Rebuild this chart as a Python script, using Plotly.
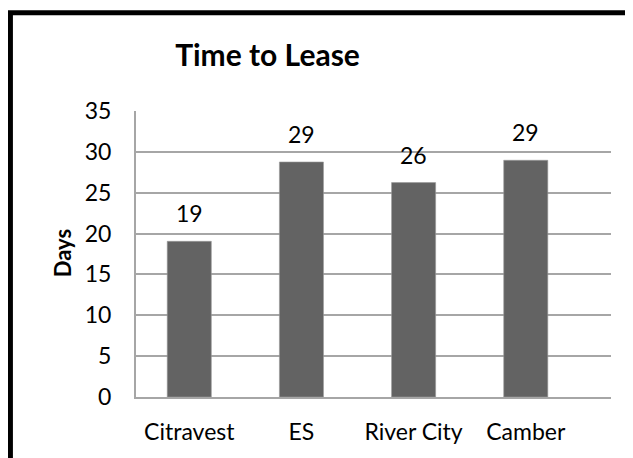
import plotly.graph_objects as go

categories = ["Citravest", "ES", "River City", "Camber"]
days = [19.05, 28.76, 26.24, 28.97]
labels = ["19", "29", "26", "29"]
y_ticks = [0, 5, 10, 15, 20, 25, 30, 35]

W, H = 633, 458
OFF = 8  # page body margin offset
# target positions in the screenshot (px)
PL, PR, PT, PB = 136, 610.7, 110.7, 396.7
ML = PL - OFF
MT = PT - OFF
MR = W - (PR - OFF)
MB = H - (PB - OFF)
PW, PH = W - ML - MR, H - MT - MB

FONT = "Lato"


def px_x(p):
    return (p - OFF - ML) / PW


def px_y(p):
    return (H - MB - (p - OFF)) / PH


fig = go.Figure()
fig.add_trace(go.Bar(
    x=list(range(len(categories))),
    y=days,
    width=0.393,
    marker=dict(color="#636363", line=dict(color="#9a9a9a", width=0.6)),
    hoverinfo="skip",
))

for i, (v, t) in enumerate(zip(days, labels)):
    fig.add_annotation(x=i, y=v, text=t, showarrow=False, yanchor="bottom",
                       yshift=12, font=dict(family=FONT, size=23, color="#000000"))

# y axis title
fig.add_annotation(xref="paper", yref="paper", x=px_x(62), y=px_y(253),
                   text="<b>Days</b>", textangle=-90, showarrow=False,
                   xanchor="center", yanchor="middle",
                   font=dict(family=FONT, size=22, color="#000000"))

# chart border
fig.add_shape(type="rect", xref="paper", yref="paper",
              x0=px_x(10.5), x1=px_x(680), y0=px_y(12.5), y1=px_y(500),
              line=dict(color="#000000", width=5), fillcolor="rgba(0,0,0,0)", layer="above")

fig.update_layout(
    width=W, height=H,
    margin=dict(l=ML, r=MR, t=MT, b=MB, pad=0),
    paper_bgcolor="#ffffff", plot_bgcolor="#ffffff",
    showlegend=False,
    title=dict(text="<b>Time to Lease</b>", x=(267.5 - OFF) / W, xanchor="center",
               y=1 - (55 - OFF) / H, yanchor="middle", yref="container",
               font=dict(family=FONT, size=30, color="#000000")),
    font=dict(family=FONT, size=22, color="#000000"),
)
fig.update_xaxes(
    tickvals=list(range(len(categories))), ticktext=categories,
    range=[-0.475, 3.76],
    showgrid=False, zeroline=False,
    showline=True, linecolor="#a6a6a6", linewidth=2,
    ticks="", ticklabelstandoff=13,
    tickfont=dict(family=FONT, size=23, color="#000000"),
    fixedrange=True,
)
fig.update_yaxes(
    range=[0, 35], tickvals=y_ticks,
    showgrid=True, gridcolor="#a6a6a6", gridwidth=2,
    zeroline=False,
    showline=True, linecolor="#a6a6a6", linewidth=2,
    ticks="", ticklabelstandoff=18,
    tickfont=dict(family=FONT, size=23, color="#000000"),
    fixedrange=True,
)

fig.write_html("out.html")
